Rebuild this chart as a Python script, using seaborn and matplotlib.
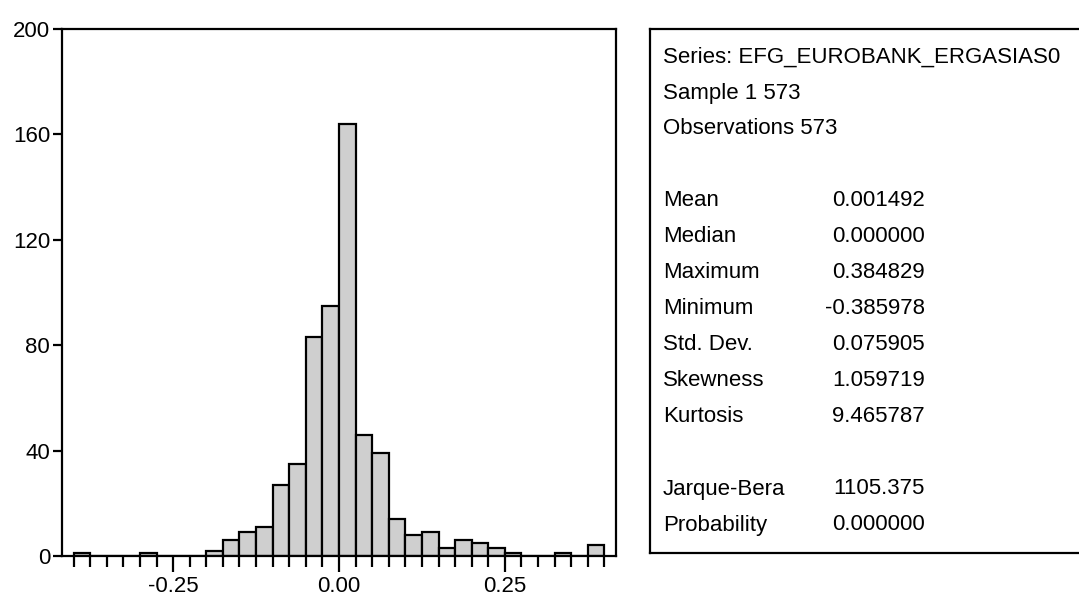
import numpy as np
import pandas as pd
import seaborn as sns
import matplotlib
matplotlib.use("Agg")
import matplotlib.pyplot as plt
from matplotlib.ticker import MultipleLocator

# Histogram bins (width 0.025) and counts of the return series
bin_edges = [round(-0.4 + 0.025 * i, 3) for i in range(33)]
counts = [1, 0, 0, 0, 1, 0, 0, 0, 2, 6, 9, 11, 27, 35, 83, 95,
          164, 46, 39, 14, 8, 9, 3, 6, 5, 3, 1, 0, 0, 1, 0, 4]

# Descriptive statistics panel (None marks an empty line)
stat_names = ["Series: EFG_EUROBANK_ERGASIAS0", "Sample 1 573", "Observations 573", None,
              "Mean", "Median", "Maximum", "Minimum", "Std. Dev.",
              "Skewness", "Kurtosis", None, "Jarque-Bera", "Probability"]
stat_values = [None, None, None, None,
               "0.001492", "0.000000", "0.384829", "-0.385978", "0.075905",
               "1.059719", "9.465787", None, "1105.375", "0.000000"]

x_ticks = [-0.25, 0.00, 0.25]
x_tick_labels = ["-0.25", "0.00", "0.25"]
y_ticks = [0, 40, 80, 120, 160, 200]

sns.set_theme(style="white")
plt.rcParams["font.family"] = ["Liberation Sans Narrow", "Arial Narrow",
                               "Liberation Sans", "DejaVu Sans"]

W, H = 1079, 604
fig = plt.figure(figsize=(W / 100, H / 100), dpi=100)
fig.patch.set_facecolor("white")

def fx(px):
    return px / W

def fy(py):
    return 1 - py / H

# Histogram axes
ax = fig.add_axes([fx(62), fy(556), fx(616) - fx(62), fy(29) - fy(556)])
mids = [(a + b) / 2 for a, b in zip(bin_edges[:-1], bin_edges[1:])]
df = pd.DataFrame({"value": mids, "count": counts})
sns.histplot(data=df, x="value", weights="count", bins=bin_edges, ax=ax,
             color="#cfcfcf", edgecolor="black", linewidth=1.6, alpha=1.0)

ax.set_xlim(-0.4175, 0.4175)
ax.set_ylim(0, 200)
ax.set_xlabel("")
ax.set_ylabel("")
ax.set_yticks(y_ticks)
ax.set_yticklabels([str(v) for v in y_ticks])
ax.set_xticks(x_ticks)
ax.set_xticklabels(x_tick_labels)
ax.xaxis.set_minor_locator(MultipleLocator(0.025))
for s in ax.spines.values():
    s.set_visible(True)
    s.set_color("black")
    s.set_linewidth(1.6)
ax.tick_params(axis="x", which="major", direction="out", length=11.5, width=1.6,
               bottom=True, labelsize=16, pad=3, colors="black")
ax.tick_params(axis="x", which="minor", direction="out", length=8, width=1.6,
               bottom=True, colors="black")
ax.tick_params(axis="y", which="major", direction="out", length=6.5, width=1.6,
               left=True, labelsize=16, pad=2, colors="black")
ax.grid(False)

# Statistics panel
bx = fig.add_axes([fx(650), fy(553), fx(1090) - fx(650), fy(29) - fy(553)])
bx.set_xticks([])
bx.set_yticks([])
bx.set_xlim(0, 1)
bx.set_ylim(0, 1)
for s in bx.spines.values():
    s.set_color("black")
    s.set_linewidth(1.6)

fs = 16
row_top, row_step = 57, 36
for i, (name, val) in enumerate(zip(stat_names, stat_values)):
    py = row_top + i * row_step
    if name is not None:
        fig.text(fx(663), fy(py), name, fontsize=fs, va="center", ha="left", color="black")
    if val is not None:
        fig.text(fx(925), fy(py), val, fontsize=fs, va="center", ha="right", color="black")

fig.savefig("out.png", dpi=100, facecolor="white")
